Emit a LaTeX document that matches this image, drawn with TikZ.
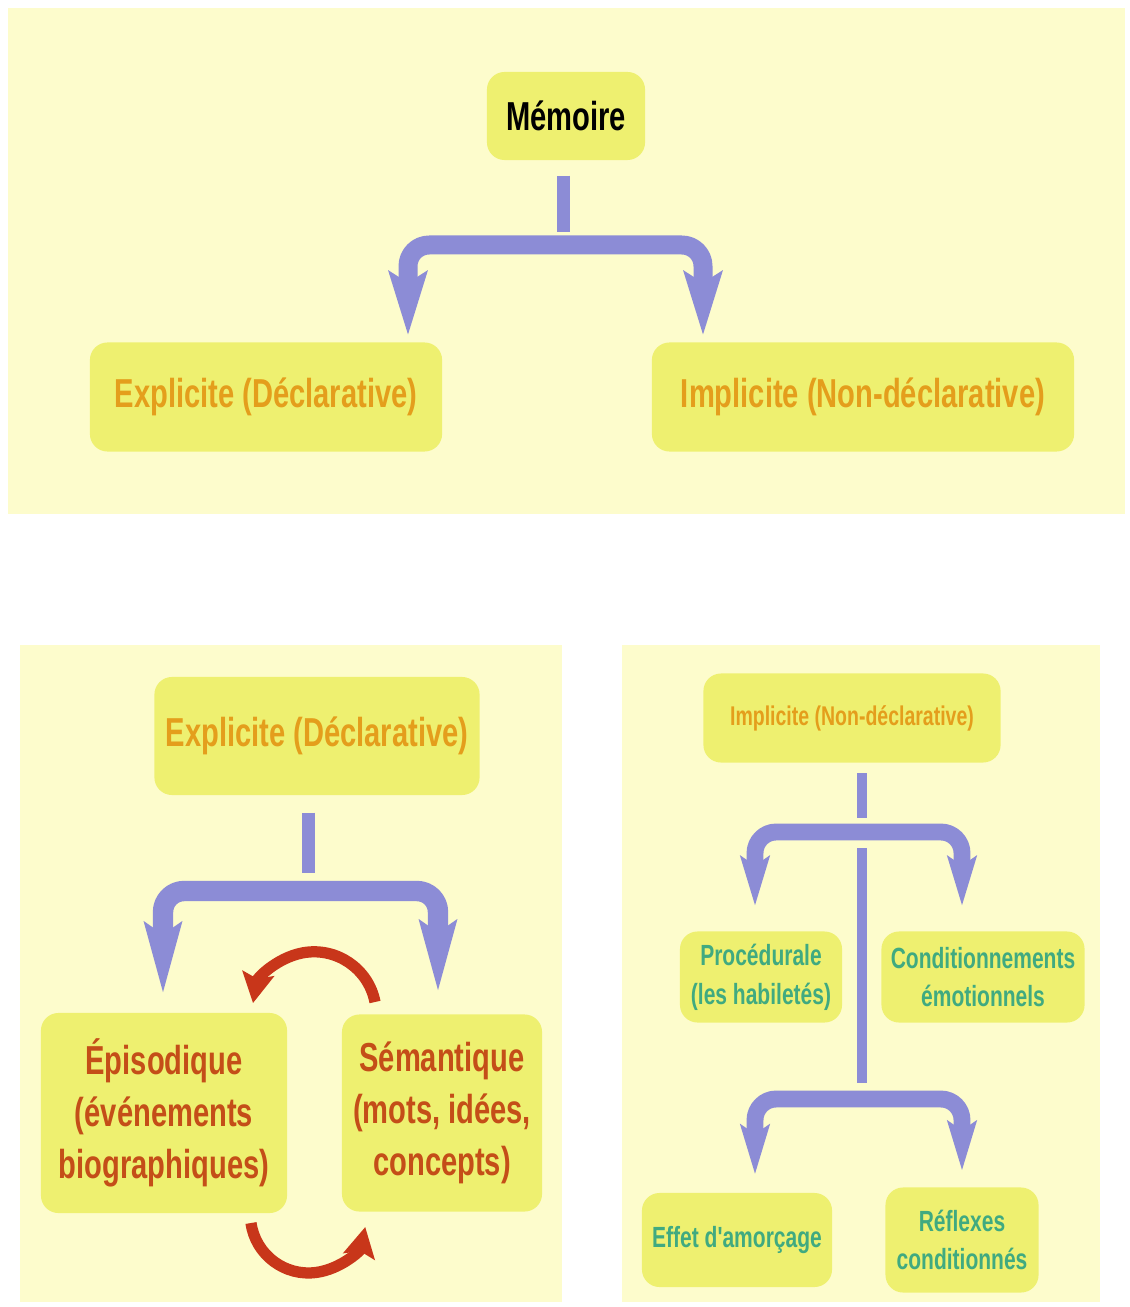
\documentclass[tikz,border=0pt]{standalone}
\usepackage{fontspec}
\newfontfamily\narrowsans{Liberation Sans}[FakeStretch=0.72]
\usetikzlibrary{arrows.meta}
\definecolor{panelyellow}{RGB}{253,252,204}
\definecolor{boxyellow}{RGB}{238,240,112}
\definecolor{lilac}{RGB}{140,140,214}
\definecolor{ambre}{RGB}{228,158,28}
\definecolor{brique}{RGB}{196,78,24}
\definecolor{menthe}{RGB}{64,170,128}
\definecolor{rouille}{RGB}{200,54,26}
\newcommand\grand{\fontsize{11.5}{14.8}\selectfont}
\newcommand\moyen{\fontsize{7.7}{9.5}\selectfont}
\newcommand\petit{\fontsize{8.3}{11}\selectfont}

\begin{document}
\begin{tikzpicture}[line cap=butt,line join=round,x=0.01cm,y=-0.01cm,
  box/.style={fill=boxyellow,rounded corners=5pt,inner sep=0pt,align=center,font=\narrowsans\bfseries\grand},
  tige/.style={draw=lilac,line width=3.7pt},
  branche/.style={draw=lilac,line width=5.4pt,rounded corners=6pt,
    {Stealth[length=18pt,width=10.5pt,inset=3pt]}-{Stealth[length=18pt,width=10.5pt,inset=3pt]},
    shorten <=1.7pt,shorten >=1.7pt},
  boucle/.style={draw=rouille,line width=3.2pt,-{Stealth[length=8.5pt,width=9pt,inset=1.5pt]}}]
\useasboundingbox[fill=white] (0,0) rectangle (1129,1307);
\fill[panelyellow] (8,8) rectangle (1125,514);
\fill[panelyellow] (20,645) rectangle (562,1302);
\fill[panelyellow] (622,645) rectangle (1100,1302);
%
% haut
\node[box,text=black,minimum width=1.58cm,minimum height=0.88cm] (memoire) at (566,116) {Mémoire};
\node[box,text=ambre,minimum width=3.52cm,minimum height=1.09cm] (explicite) at (266,397) {Explicite (Déclarative)};
\node[box,text=ambre,minimum width=4.22cm,minimum height=1.09cm] (implicite) at (863,397) {Implicite (Non-déclarative)};
\coordinate (ja) at (408,245);
\coordinate (jb) at (703,245);
\draw[tige] (memoire.south) ++(-3,15) -- ++(0,56);
\draw[branche] (ja |- explicite.north) -- (ja) -- (jb) -- (jb |- implicite.north);
%
% bas gauche
\node[box,text=ambre,minimum width=3.25cm,minimum height=1.18cm] (explicite2) at (317,736) {Explicite (Déclarative)};
\node[box,text=brique,minimum width=2.46cm,minimum height=2.0cm] (episodique) at (164,1113) {Épisodique\\(événements\\biographiques)};
\node[box,text=brique,minimum width=2.0cm,minimum height=1.97cm] (semantique) at (442,1113) {Sémantique\\(mots, idées,\\concepts)};
\coordinate (jc) at (163,891);
\coordinate (jd) at (438,891);
\draw[tige] (explicite2.south) ++(-9,17) -- ++(0,60);
\draw[branche,line width=5.8pt,shorten <=5pt,shorten >=6pt,
  {Stealth[length=20pt,width=10pt,inset=3pt]}-{Stealth[length=20pt,width=10pt,inset=3pt]}]
  (jc |- episodique.north) -- (jc) -- (jd) -- (jd |- semantique.north);
\coordinate (ra) at (375,1002);
\coordinate (rb) at (251,1223);
\draw[boucle] (ra) arc[start angle=11,end angle=170,radius=0.62cm];
\draw[boucle] (rb) arc[start angle=188,end angle=348,radius=0.58cm];
%
% bas droite
\node[box,text=ambre,font=\narrowsans\bfseries\moyen,minimum width=2.97cm,minimum height=0.89cm] (implicite2) at (852,718) {Implicite (Non-déclarative)};
\node[box,text=menthe,font=\narrowsans\bfseries\petit,minimum width=1.62cm,minimum height=0.91cm] (procedurale) at (761,977) {Procédurale\\(les habiletés)};
\node[box,text=menthe,font=\narrowsans\bfseries\petit,minimum width=2.03cm,minimum height=0.91cm] (conditionnements) at (983,977) {Conditionnements\\émotionnels};
\node[box,text=menthe,font=\narrowsans\bfseries\petit,minimum width=1.90cm,minimum height=0.94cm] (amorcage) at (737,1240) {Effet d'amorçage};
\node[box,text=menthe,font=\narrowsans\bfseries\petit,minimum width=1.53cm,minimum height=1.05cm] (reflexes) at (962,1240) {Réflexes\\conditionnés};
\coordinate (je) at (755,832);
\coordinate (jf) at (962,832);
\coordinate (jg) at (755,1099);
\coordinate (jh) at (962,1099);
\coordinate (ta) at (862,848);
\coordinate (tb) at (862,1083);
\draw[tige,line width=2.9pt] (ta |- implicite2.south) ++(0,10) -- ++(0,45);
\draw[tige,line width=2.9pt] (ta) -- (tb);
\draw[branche,line width=4.8pt,shorten <=7pt,shorten >=7pt,
  {Stealth[length=14pt,width=8pt,inset=2.5pt]}-{Stealth[length=14pt,width=8pt,inset=2.5pt]}]
  (je |- procedurale.north) -- (je) -- (jf) -- (jf |- conditionnements.north);
\draw[branche,line width=4.8pt,shorten <=5pt,shorten >=4.5pt,
  {Stealth[length=14pt,width=8pt,inset=2.5pt]}-{Stealth[length=14pt,width=8pt,inset=2.5pt]}]
  (jg |- amorcage.north) -- (jg) -- (jh) -- (jh |- reflexes.north);
\end{tikzpicture}
\end{document}
